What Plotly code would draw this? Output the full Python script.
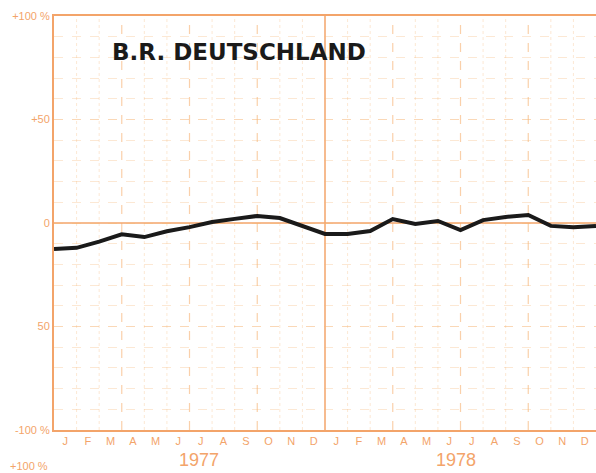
import plotly.graph_objects as go

# Monthly index change (%), Jan 1977 .. Dec 1978, plotted at month boundaries
month_index = list(range(25))
change_pct = [-12.6, -12.0, -9.0, -5.5, -6.8, -4.0, -2.0, 0.5, 2.0, 3.4, 2.4, -1.5,
              -5.3, -5.3, -3.9, 1.9, -0.5, 1.0, -3.4, 1.4, 2.9, 3.9, -1.4, -2.0, -1.4]

month_labels = ["J", "F", "M", "A", "M", "J", "J", "A", "S", "O", "N", "D"] * 2
month_centres = [k + 0.5 for k in range(24)]
year_labels = ["1977", "1978"]
year_positions = [6.4, 17.8]

y_tickvals = [100, 50, 0, -50, -100]
y_ticktext = ["+100 %", "+50", "0", "50", "-100 %"]

FONT = "Liberation Sans, Arial, sans-serif"
ORANGE = "#f3a46a"
GRID = "rgba(245,185,120,0.32)"
GRID_Q = "rgba(245,170,100,0.55)"

fig = go.Figure()

fig.add_trace(go.Scatter(
    x=month_index, y=change_pct, mode="lines",
    line=dict(color="#1a1a1a", width=4),
    hoverinfo="skip", showlegend=False,
))

# vertical month / quarter / year lines
shapes = []
for k in range(1, 24):
    if k == 12:
        continue
    quarter = (k % 3 == 0)
    shapes.append(dict(type="line", xref="x", yref="y", x0=k, x1=k, y0=-100, y1=100,
                       line=dict(color=GRID_Q if quarter else GRID,
                                 width=1.2 if quarter else 1,
                                 dash="dash" if quarter else "dot"),
                       layer="below"))
shapes.append(dict(type="line", xref="x", yref="y", x0=12, x1=12, y0=-100, y1=100,
                   line=dict(color=ORANGE, width=1.5), layer="below"))
shapes.append(dict(type="line", xref="x", yref="y", x0=0, x1=24, y0=0, y1=0,
                   line=dict(color=ORANGE, width=1.5), layer="below"))

annotations = [
    dict(text="<b>B.R. DEUTSCHLAND</b>", xref="paper", yref="paper", x=0.342, y=0.913,
         xanchor="center", yanchor="middle", showarrow=False,
         font=dict(family="DejaVu Sans, sans-serif", size=23, color="#1a1a1a")),
    dict(text="+100 %", xref="paper", yref="paper", x=-0.008, y=-0.088, xanchor="right",
         yanchor="middle", showarrow=False,
         font=dict(family=FONT, size=11, color=ORANGE)),
]
for lab, pos in zip(year_labels, year_positions):
    annotations.append(dict(text=lab, xref="x", yref="paper", x=pos, y=-0.072,
                            xanchor="center", yanchor="middle", showarrow=False,
                            font=dict(family=FONT, size=18, color=ORANGE)))

fig.update_layout(
    width=596, height=473,
    margin=dict(l=54, r=0, t=16, b=43),
    paper_bgcolor="white", plot_bgcolor="white",
    shapes=shapes, annotations=annotations,
    xaxis=dict(range=[0, 24], tickmode="array", tickvals=month_centres,
               ticktext=month_labels, showgrid=False, zeroline=False,
               showline=True, mirror=True, linecolor=ORANGE, linewidth=2,
               ticks="", tickfont=dict(family=FONT, size=11, color=ORANGE)),
    yaxis=dict(range=[-100, 100], tickmode="array", tickvals=y_tickvals,
               ticktext=y_ticktext, showline=True, linecolor=ORANGE, linewidth=2,
               zeroline=False, showgrid=True, gridcolor=GRID, griddash="dash",
               gridwidth=1,
               minor=dict(tickmode="linear", tick0=0, dtick=10, showgrid=True,
                          gridcolor=GRID, griddash="dash", gridwidth=1),
               ticks="", tickfont=dict(family=FONT, size=11, color=ORANGE)),
)

fig.write_html("out.html")
